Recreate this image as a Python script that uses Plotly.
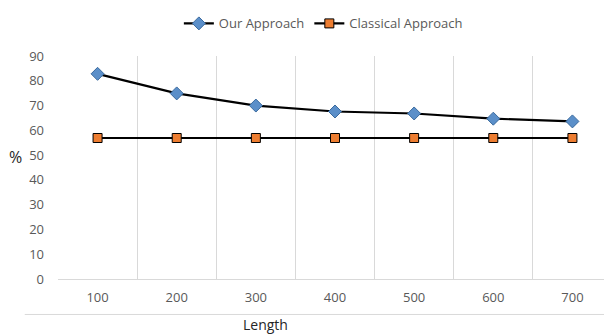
import plotly.graph_objects as go

lengths = ["100", "200", "300", "400", "500", "600", "700"]
our_approach = [82.8, 74.9, 70.0, 67.6, 66.8, 64.7, 63.6]
classical_approach = [56.9, 56.9, 56.9, 56.9, 56.9, 56.9, 56.9]
y_ticks = [0, 10, 20, 30, 40, 50, 60, 70, 80, 90]

FONT = "Open Sans, Liberation Sans, sans-serif"
GRAY = "#595959"

fig = go.Figure()
fig.add_trace(go.Scatter(
    x=lengths, y=our_approach, name="Our Approach", mode="lines+markers",
    line=dict(color="black", width=2.2),
    marker=dict(symbol="diamond", size=10, color="#5B8FC9",
                line=dict(color="#3A6A9E", width=1)),
))
fig.add_trace(go.Scatter(
    x=lengths, y=classical_approach, name="Classical Approach", mode="lines+markers",
    line=dict(color="black", width=2.2),
    marker=dict(symbol="square", size=9, color="#ED7D31",
                line=dict(color="black", width=1)),
))

fig.update_layout(
    width=604, height=327,
    margin=dict(l=50, r=0, t=45, b=56),
    paper_bgcolor="white", plot_bgcolor="white",
    font=dict(family=FONT, size=12, color=GRAY),
    showlegend=True,
    legend=dict(orientation="h", x=0.479, y=1.146, xanchor="center", yanchor="middle",
                font=dict(size=13, color=GRAY), itemwidth=30, tracegroupgap=0),
    xaxis=dict(type="category", range=[-0.5, 6.5], tickson="boundaries",
               showgrid=True, gridcolor="#D9D9D9", gridwidth=1,
               showline=True, linecolor="#D9D9D9", linewidth=1,
               ticks="", tickfont=dict(size=13, color=GRAY), ticklabelstandoff=6),
    yaxis=dict(range=[0, 90], tickvals=y_ticks, showgrid=False, zeroline=False,
               showline=False, ticks="", tickfont=dict(size=13, color=GRAY),
               ticklabelstandoff=13),
    shapes=[dict(type="line", xref="paper", yref="paper",
                 x0=-0.06, x1=1.0, y0=-0.159, y1=-0.159,
                 line=dict(color="#D9D9D9", width=1))],
    annotations=[
        dict(text="Length", xref="paper", yref="paper", x=0.374, y=-0.205,
             showarrow=False, xanchor="center", yanchor="middle",
             font=dict(size=14, color="#262626")),
        dict(text="%", xref="paper", yref="paper", x=-0.076, y=0.549,
             showarrow=False, xanchor="center", yanchor="middle",
             font=dict(size=16, color="#262626")),
    ],
)

fig.write_html("out.html")
